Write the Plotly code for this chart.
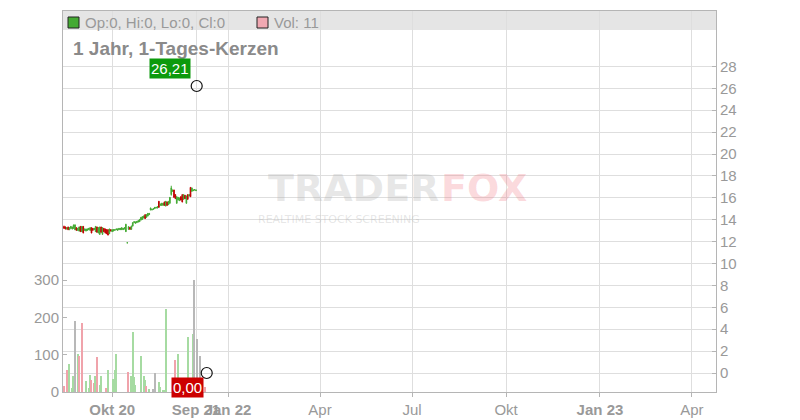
import plotly.graph_objects as go

# ---------------- data ----------------
opens = [13.39, 13.33, 13.15, 13.33, 13.09, 13.21, 13.15, 13.21, 13.09, 13.27,
         13.03, 12.97, 13.39, 12.91, 13.39, 13.03, 12.97, 13.03, 13.09, 13.03,
         13.27, 13.21, 13.09, 12.91, 13.33, 12.79, 12.66, 13.33, 12.66, 13.21,
         13.15, 13.09, 13.09, 12.72, 13.09, 12.91, 12.97, 13.03, 13.09, 13.03,
         13.09, 13.09, 13.09, 13.09, 13.15, 12.91, 11.87, 13.12, 13.30, 13.12,
         13.42, 13.73, 13.67, 13.73, 13.79, 13.82, 13.97, 14.03, 14.16, 14.46,
         14.22, 14.34, 14.46, 14.89, 14.89, 14.95, 15.01, 15.07, 15.07, 15.68,
         15.31, 15.31, 15.31, 15.62, 15.25, 15.62, 15.37, 15.50, 16.30, 16.59,
         16.71, 16.29, 15.50, 15.80, 15.74, 16.10, 16.29, 15.86, 16.23, 15.50,
         16.29, 16.16, 16.95, 16.59, 16.65, 16.71, 16.65]
highs = [13.45, 13.38, 13.30, 13.36, 13.30, 13.42, 13.36, 13.55, 13.58, 13.30,
         13.24, 13.36, 13.42, 13.42, 13.42, 13.18, 13.18, 13.18, 13.24, 13.30,
         13.30, 13.24, 13.24, 13.42, 13.36, 13.30, 13.36, 13.36, 13.30, 13.24,
         13.18, 13.12, 13.12, 13.18, 13.12, 13.12, 13.12, 13.12, 13.18, 13.18,
         13.24, 13.24, 13.30, 13.24, 13.30, 13.62, 11.92, 13.40, 13.33, 13.45,
         13.76, 13.85, 13.82, 13.88, 13.94, 14.06, 14.25, 14.31, 14.37, 14.49,
         14.49, 14.61, 14.61, 15.10, 14.98, 15.04, 15.16, 15.16, 15.22, 15.71,
         15.46, 15.53, 15.53, 15.65, 15.71, 15.65, 15.71, 16.07, 17.10, 16.74,
         16.74, 16.32, 16.13, 16.07, 16.01, 16.13, 16.32, 16.32, 16.26, 16.19,
         16.32, 16.32, 16.98, 16.93, 16.74, 16.78, 16.74]
lows = [13.17, 13.12, 13.10, 13.05, 13.05, 13.18, 13.12, 13.18, 13.05, 13.00,
        13.00, 12.93, 12.88, 12.88, 12.76, 13.00, 12.94, 13.00, 13.06, 13.00,
        12.76, 13.00, 13.06, 12.88, 12.82, 12.76, 12.63, 12.82, 12.63, 12.88,
        12.76, 12.69, 12.57, 12.69, 12.94, 12.88, 12.94, 13.00, 13.06, 13.00,
        13.06, 13.06, 13.06, 13.06, 13.12, 12.88, 11.84, 13.08, 13.08, 13.08,
        13.38, 13.70, 13.64, 13.70, 13.76, 13.79, 13.94, 14.00, 14.13, 14.07,
        14.19, 14.31, 14.43, 14.86, 14.86, 14.92, 14.98, 15.04, 15.04, 15.10,
        15.28, 15.28, 15.28, 15.28, 15.22, 15.28, 15.34, 15.47, 16.20, 16.56,
        16.01, 15.89, 15.47, 15.77, 15.71, 15.77, 15.59, 15.83, 15.89, 15.47,
        15.83, 16.13, 16.07, 16.56, 16.62, 16.68, 16.62]
closes = [13.21, 13.15, 13.27, 13.09, 13.27, 13.39, 13.33, 13.52, 13.52, 13.03,
          13.21, 13.33, 12.91, 13.39, 12.79, 13.15, 13.15, 13.15, 13.21, 13.27,
          12.79, 13.03, 13.21, 13.39, 12.85, 13.27, 13.33, 12.85, 13.27, 12.91,
          12.79, 12.72, 12.60, 13.15, 12.97, 13.09, 13.09, 13.09, 13.15, 13.15,
          13.21, 13.21, 13.27, 13.21, 13.27, 13.58, 11.90, 13.36, 13.12, 13.42,
          13.73, 13.82, 13.79, 13.85, 13.91, 14.03, 14.22, 14.28, 14.34, 14.10,
          14.46, 14.58, 14.58, 15.07, 14.95, 15.01, 15.13, 15.13, 15.19, 15.13,
          15.43, 15.50, 15.50, 15.31, 15.68, 15.31, 15.68, 16.04, 16.90, 16.71,
          16.04, 15.92, 16.10, 16.04, 15.98, 15.80, 15.62, 16.29, 15.92, 16.16,
          15.86, 16.29, 16.10, 16.90, 16.71, 16.75, 16.71]

vol_idx = [0, 2, 4, 6, 7, 8, 10, 11, 13, 16,
           18, 19, 20, 22, 23, 24, 26, 27, 31, 32,
           36, 37, 38, 47, 49, 50, 51, 52, 56, 58,
           59, 60, 62, 65, 66, 69, 70, 72, 73, 74,
           81, 83, 90, 91, 94, 95, 97, 99, 103]
volumes = [16, 59, 75, 12, 43, 189, 102, 97, 186, 30,
           12, 46, 32, 25, 43, 94, 19, 43, 11, 59,
           35, 59, 102, 54, 43, 161, 41, 18, 97, 43,
           32, 16, 9, 7, 50, 27, 14, 5, 4, 222,
           86, 102, 148, 14, 155, 300, 142, 97, 13]
vol_dirs = ["d", "d", "u", "u", "u", "n", "u", "d", "d", "u",
            "u", "u", "d", "d", "u", "d", "u", "u", "d", "u",
            "u", "u", "u", "d", "u", "u", "u", "u", "u", "u",
            "u", "d", "u", "n", "n", "u", "u", "u", "u", "u",
            "d", "u", "u", "d", "u", "n", "n", "n", "d"]

x_tick_vals = [35, 96, 119.3, 186.2, 253.1, 321.5, 389.8, 456.7]
x_tick_text = ["<b>Okt 20</b>", "<b>Sep 21</b>", "<b>Jan 22</b>", "Apr", "Jul",
               "Okt", "<b>Jan 23</b>", "Apr"]
price_ticks = [0, 2, 4, 6, 8, 10, 12, 14, 16, 18, 20, 22, 24, 26, 28]
vol_ticks = [0, 100, 200, 300]

hi_point = (96.5, 26.21)
hi_label = "26,21"
lo_point = (103.8, 0.0)
lo_label = "0,00"

# ---------------- styles ----------------
GREEN = "#44aa33"
RED = "#c00000"
VOLCOL = {"u": "#a6dba2", "d": "#f0a3ab", "n": "#b8b8b8"}
GRID = "#dedede"
AXIS = "#b5b5b5"
TXT = "#999999"
FONT = "Liberation Sans, Arial, sans-serif"

fig = go.Figure()

fig.add_trace(go.Bar(
    x=vol_idx, y=volumes, yaxis="y",
    marker=dict(color=[VOLCOL[d] for d in vol_dirs], line=dict(width=0)),
    width=1.0, showlegend=False, hoverinfo="skip"))

fig.add_trace(go.Candlestick(
    x=list(range(len(opens))), open=opens, high=highs, low=lows, close=closes,
    yaxis="y2",
    increasing=dict(line=dict(color=GREEN, width=1), fillcolor=GREEN),
    decreasing=dict(line=dict(color=RED, width=1), fillcolor=RED),
    whiskerwidth=0, showlegend=False))

fig.add_trace(go.Scatter(
    x=[hi_point[0], lo_point[0]], y=[hi_point[1], lo_point[1]], yaxis="y2",
    mode="markers",
    marker=dict(symbol="circle-open", size=11, color="#111111", line=dict(width=1.2)),
    showlegend=False, hoverinfo="skip", cliponaxis=False))

# page body has an 8px margin, so the figure is 792x412 placed at (8, 8)
fig.update_layout(
    width=792, height=412,
    margin=dict(l=55, r=84, t=3, b=28, autoexpand=False),
    paper_bgcolor="white", plot_bgcolor="white",
    font=dict(family=FONT, size=15, color=TXT),
    bargap=0,
    xaxis=dict(
        range=[-0.73, 474.2], tickmode="array", tickvals=x_tick_vals,
        ticktext=x_tick_text, tickangle=0, showgrid=True, gridcolor=GRID, gridwidth=1,
        ticks="outside", ticklen=4, tickcolor=AXIS, showline=True,
        linecolor=AXIS, linewidth=1, mirror=True, zeroline=False, automargin=False,
        rangeslider=dict(visible=False), tickfont=dict(size=15, color=TXT)),
    yaxis=dict(
        range=[0, 1021], tickmode="array", tickvals=vol_ticks, showgrid=False,
        ticks="inside", ticklen=4, tickcolor=AXIS, showline=True,
        linecolor=AXIS, linewidth=1, zeroline=False, automargin=False,
        tickfont=dict(size=15, color=TXT)),
    yaxis2=dict(
        range=[-1.735, 33.06], overlaying="y", side="right", tickmode="array",
        tickvals=price_ticks, showgrid=True, gridcolor=GRID, gridwidth=1,
        ticks="inside", ticklen=4, tickcolor=AXIS, showline=True,
        linecolor=AXIS, linewidth=1, zeroline=False, automargin=False,
        tickfont=dict(size=15, color=TXT)),
)

def px_x(p):
    return (p - 63) / 653.0

def px_y(p):
    return (392 - p) / 381.0

shapes = [
    dict(type="rect", xref="paper", yref="paper", x0=0, x1=1,
         y0=px_y(30), y1=1, fillcolor="#e5e5e5", line=dict(width=0), layer="below"),
    dict(type="rect", xref="paper", yref="paper", x0=px_x(68), x1=px_x(79),
         y0=px_y(28), y1=px_y(17), fillcolor=GREEN, line=dict(color="#222", width=1)),
    dict(type="rect", xref="paper", yref="paper", x0=px_x(257), x1=px_x(268),
         y0=px_y(28), y1=px_y(17), fillcolor="#f0a8b2", line=dict(color="#222", width=1)),
]
fig.update_layout(shapes=shapes)

ann = [
    dict(text="Op:0, Hi:0, Lo:0, Cl:0", xref="paper", yref="paper",
         x=px_x(83), y=px_y(22.5), xanchor="left", yanchor="middle",
         showarrow=False, font=dict(size=15, color=TXT)),
    dict(text="Vol: 11", xref="paper", yref="paper",
         x=px_x(272), y=px_y(22.5), xanchor="left", yanchor="middle",
         showarrow=False, font=dict(size=15, color=TXT)),
    dict(text="<b>1 Jahr, 1-Tages-Kerzen</b>", xref="paper", yref="paper",
         x=px_x(71), y=px_y(48), xanchor="left", yanchor="middle",
         showarrow=False, font=dict(size=19, color="#8a8a8a")),
    # watermark
    dict(text="<b>TRADER</b>", xref="paper", yref="paper", x=px_x(441), y=px_y(188),
         xanchor="right", yanchor="middle", showarrow=False,
         font=dict(family="DejaVu Sans", size=38, color="rgba(170,170,170,0.28)")),
    dict(text="<b>FOX</b>", xref="paper", yref="paper", x=px_x(439), y=px_y(188),
         xanchor="left", yanchor="middle", showarrow=False,
         font=dict(family="DejaVu Sans", size=38, color="rgba(240,110,120,0.26)")),
    dict(text="REALTIME STOCK SCREENING", xref="paper", yref="paper",
         x=px_x(339), y=px_y(219), xanchor="center", yanchor="middle",
         showarrow=False,
         font=dict(family="DejaVu Sans", size=11, color="rgba(170,170,170,0.30)")),
    # value labels
    dict(text=hi_label, xref="x", yref="y2", x=hi_point[0], y=hi_point[1],
         xanchor="right", yanchor="bottom", xshift=-6, yshift=7, showarrow=False,
         bgcolor="#0c9a0c", borderpad=1, font=dict(size=15, color="white")),
    dict(text=lo_label, xref="x", yref="y2", x=lo_point[0], y=lo_point[1],
         xanchor="right", yanchor="top", xshift=-3, yshift=-4, showarrow=False,
         bgcolor="#cc0000", borderpad=1, font=dict(size=15, color="white")),
]
fig.update_layout(annotations=ann)

fig.write_html("out.html")
